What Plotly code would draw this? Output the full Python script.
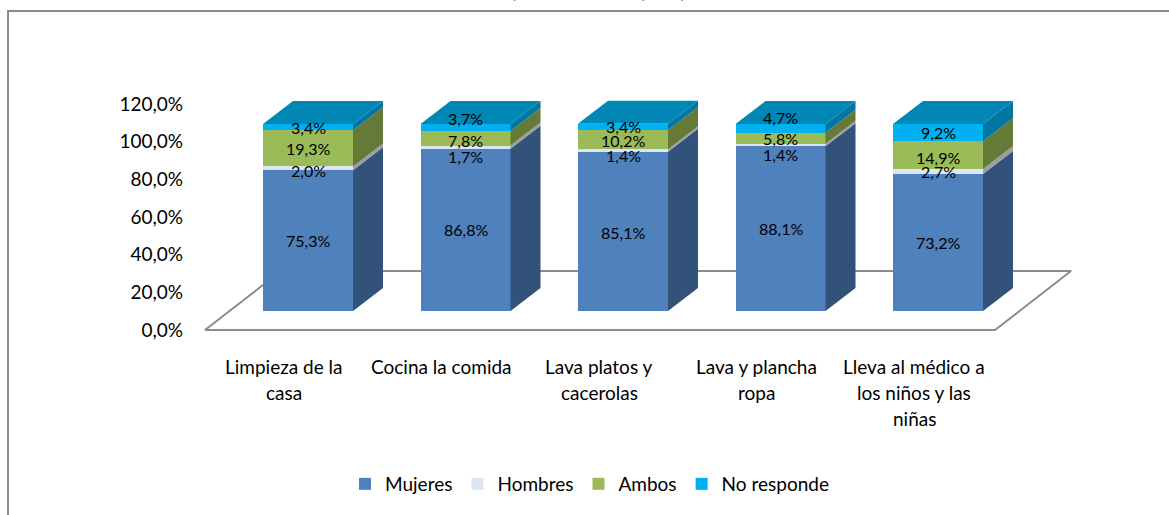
import plotly.graph_objects as go

# data
categorias = ["Limpieza de la<br>casa", "Cocina la comida", "Lava platos y<br>cacerolas",
              "Lava y plancha<br>ropa", "Lleva al médico a<br>los niños y las<br>niñas"]
mujeres = [75.3, 86.8, 85.1, 88.1, 73.2]
hombres = [2.0, 1.7, 1.4, 1.4, 2.7]
ambos = [19.3, 7.8, 10.2, 5.8, 14.9]
no_responde = [3.4, 3.7, 3.4, 4.7, 9.2]
tick_vals = [0, 20, 40, 60, 80, 100, 120]
tick_text = ["0,0%", "20,0%", "40,0%", "60,0%", "80,0%", "100,0%", "120,0%"]

series = [("Mujeres", mujeres, "#4F81BD", "#325279"),
          ("Hombres", hombres, "#DCE6F2", "#9A9DA3"),
          ("Ambos", ambos, "#9BBB59", "#667A38"),
          ("No responde", no_responde, "#00B0F0", "#0076A0")]
color_top = "#0087B5"
color_line = "#8C8C8C"
font_name = "Lato"
font_size = 19

# pixel layout of the original
W, H = 1169, 515
L, R, T, B = 184, 1100, 90, 340
px_x = 157.5      # one category
first_bar = 308   # centre of first bar
y_scale = 1.883   # axis labels, px per unit (floor level)
y0 = 330
bar_scale = 1.87  # bars, px per unit
bar0 = 311
bar_w = 90 / px_x
dx = 30 / px_x
dy = 23 / bar_scale


def paper_x(p):
    return (p - L) / (R - L)


def paper_y(p):
    return (B - p) / (B - T)


xs = list(range(len(categorias)))
fig = go.Figure()

# floor, on the axis that has the labels
fl = (205 - first_bar) / px_x
fr = (995 - first_bar) / px_x
fd = 76 / px_x
fh = 59 / y_scale
fig.add_trace(go.Scatter(x=[fl, fr, fr + fd, fl + fd, fl], y=[0, 0, fh, fh, 0],
                         mode="lines", line=dict(color=color_line, width=2),
                         showlegend=False, hoverinfo="skip", yaxis="y"))

for name, vals, col, side in series:
    fig.add_trace(go.Bar(x=xs, y=vals, name=name, width=bar_w, yaxis="y2",
                         marker=dict(color=col, line=dict(width=0))))

# side and top faces of each bar
base = [0] * len(xs)
for name, vals, col, side in series:
    for i in xs:
        xr = i + bar_w / 2
        lo = base[i]
        hi = lo + vals[i]
        fig.add_trace(go.Scatter(x=[xr, xr + dx, xr + dx, xr, xr],
                                 y=[lo, lo + dy, hi + dy, hi, lo],
                                 mode="lines", fill="toself", fillcolor=side,
                                 line=dict(width=0), showlegend=False,
                                 hoverinfo="skip", yaxis="y2"))
        base[i] = hi
for i in xs:
    xl = i - bar_w / 2
    xr = i + bar_w / 2
    fig.add_trace(go.Scatter(x=[xl, xr, xr + dx, xl + dx, xl],
                             y=[base[i], base[i], base[i] + dy, base[i] + dy, base[i]],
                             mode="lines", fill="toself", fillcolor=color_top,
                             line=dict(width=0), showlegend=False,
                             hoverinfo="skip", yaxis="y2"))

# some labels were moved by hand in the original
nudge_by_series = {"Hombres": [-2, -9, -5, -10, 0], "Ambos": [0, -2, -1, 0, -2],
                   "No responde": [0, 9, 0, 11, 0], "Mujeres": [0, 0, -1, 0, 0]}

annotations = []
base = [0] * len(xs)
for name, vals, col, side in series:
    for i in xs:
        annotations.append(dict(x=i, y=base[i] + vals[i] / 2, xref="x", yref="y2",
                                text=f"{vals[i]:.1f}%".replace(".", ","),
                                showarrow=False, yshift=nudge_by_series[name][i],
                                font=dict(size=16, color="black")))
        base[i] += vals[i]

# category labels, line by line because the spacing is wider than plotly's
for i, cat in zip(xs, categorias):
    for n, line in enumerate(cat.split("<br>")):
        annotations.append(dict(x=i, xshift=-24, y=paper_y(366 + 26 * n), xref="x", yref="paper",
                                text=line, showarrow=False, yanchor="middle",
                                font=dict(size=font_size, color="black")))

# what is left of the title, cut by the top of the picture
for p, ch in [(513, "("), (644, ")"), (683, ")")]:
    annotations.append(dict(x=paper_x(p), y=paper_y(4), xref="paper", yref="paper", text=f"<b>{ch}</b>",
                            showarrow=False, yanchor="bottom",
                            font=dict(size=24, color="#17599B")))

shapes = [dict(type="path", xref="paper", yref="paper",
               path=f"M {paper_x(8)} {paper_y(520)} L {paper_x(8)} {paper_y(11)} L {paper_x(1175)} {paper_y(11)}",
               line=dict(color=color_line, width=2))]

fig.update_layout(
    width=W, height=H,
    margin=dict(l=L, r=W - R, t=T, b=H - B, autoexpand=False),
    paper_bgcolor="white", plot_bgcolor="white",
    barmode="stack",
    font=dict(family=font_name, size=font_size, color="black"),
    xaxis=dict(range=[(L - first_bar) / px_x, (R - first_bar) / px_x], visible=False),
    yaxis=dict(range=[(y0 - B) / y_scale, (y0 - T) / y_scale], tickmode="array",
               tickvals=tick_vals, ticktext=tick_text, showgrid=False, zeroline=False,
               showline=False, ticks=""),
    yaxis2=dict(range=[(bar0 - B) / bar_scale, (bar0 - T) / bar_scale], overlaying="y",
                visible=False),
    legend=dict(orientation="h", traceorder="normal", x=paper_x(345), y=paper_y(484),
                xanchor="left", yanchor="middle", font=dict(size=19)),
    annotations=annotations,
    shapes=shapes,
)

fig.write_html("out.html", config=dict(displayModeBar=False),
               post_script="document.body.style.margin='0';document.body.style.overflow='hidden';")
